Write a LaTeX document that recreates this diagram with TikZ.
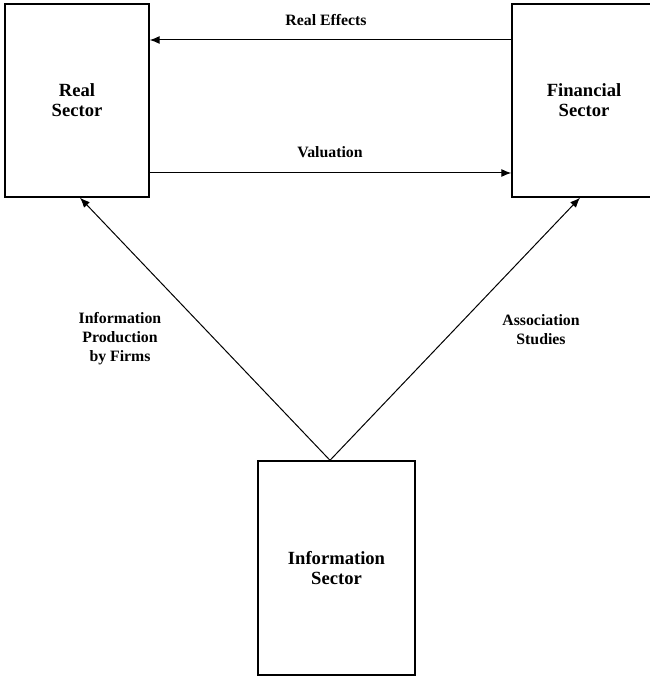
\documentclass[tikz,border=0pt]{standalone}
\usepackage{fontspec}
\setmainfont{Liberation Serif}
\usepackage{tikz}
\usetikzlibrary{shapes, arrows, arrows.meta, calc, positioning}
\tikzstyle{sector} = [rectangle, draw, line width=0.7pt, align=center, font=\bfseries\fontsize{9.3}{10}\selectfont, minimum width=72pt, minimum height=96.5pt]
\tikzstyle{lbl} = [align=center, font=\bfseries\fontsize{7.9}{9.5}\selectfont, inner sep=0pt]
\tikzstyle{link} = [-{Latex[length=5pt, width=4pt]}, line width=0.5pt]
\begin{document}
\begin{tikzpicture}[x=0.5pt, y=-0.5pt]
                        \useasboundingbox (0,0) rectangle (649,678);
                        \node[sector](real) at (77,100.5){Real\\Sector};
                        \node[sector](fin) at (584,100.5){Financial\\Sector};
                        \node[sector, minimum width=78.5pt, minimum height=107pt](info) at (336.5,568){Information\\Sector};
                        % labels
                        \node[lbl](effects) at (326,20){Real Effects};
                        \node[lbl](valuation) at (330,152){Valuation};
                        \node[lbl](production) at (120,339){Information\\Production\\by Firms};
                        \node[lbl](association) at (541,330){Association\\Studies};
                        % arrows
                        \draw[link] ([yshift=30.25pt]fin.west) -- ([yshift=30.25pt]real.east);
                        \draw[link] ([yshift=-36.25pt]real.east) -- ([yshift=-36.25pt]fin.west);
                        \draw[link] ([xshift=-3.25pt]info.north) -- ([xshift=1.5pt]real.south);
                        \draw[link] ([xshift=-3.25pt]info.north) -- ([xshift=-2pt]fin.south);
                    \end{tikzpicture}
\end{document}
